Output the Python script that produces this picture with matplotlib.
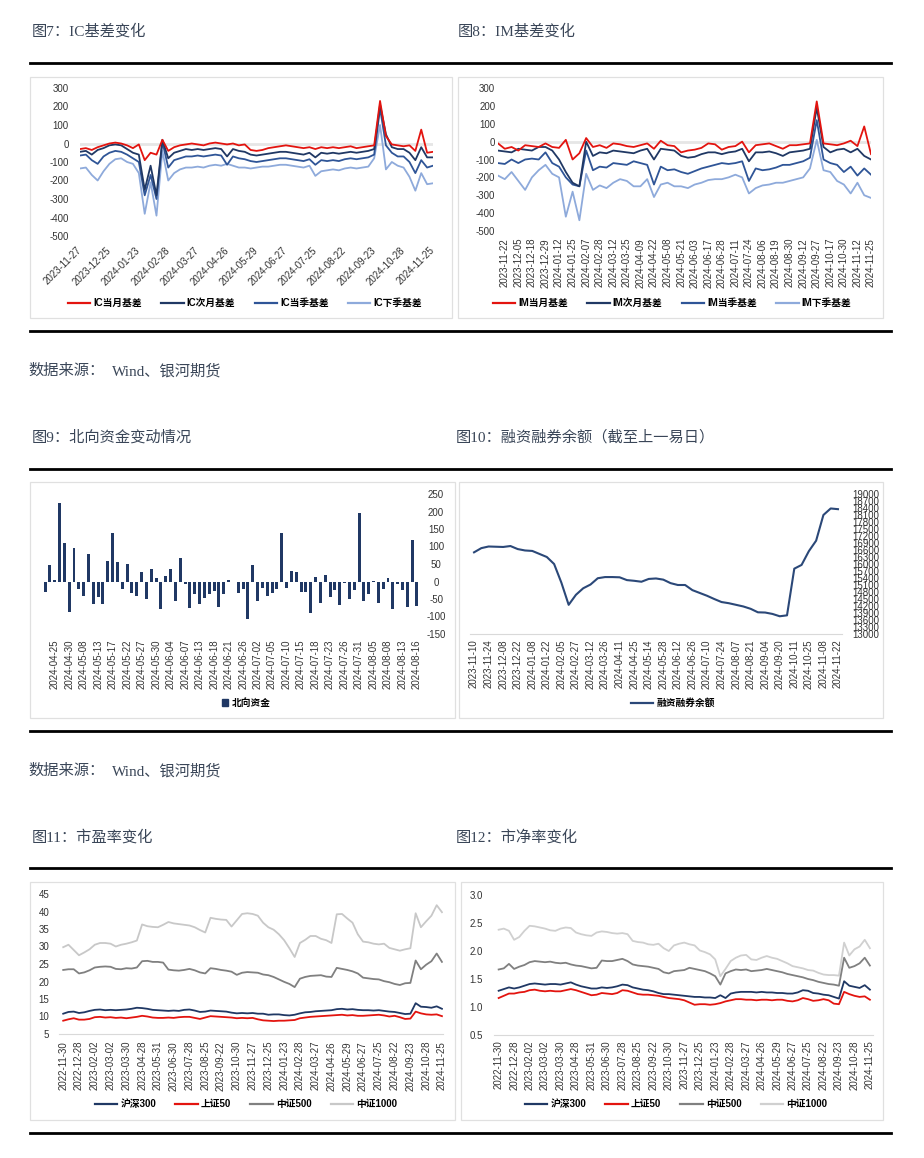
import matplotlib
matplotlib.use("Agg")
import matplotlib.pyplot as plt
from matplotlib.lines import Line2D
from matplotlib.patches import Rectangle, Patch
import numpy as np

plt.rcParams['font.family'] = ['Liberation Sans', 'Noto Sans CJK SC', 'DejaVu Sans']
plt.rcParams['axes.unicode_minus'] = False

W, H = 924, 1158

# ---------------- data ----------------
ic_labels = ['2023-11-27','2023-12-25','2024-01-23','2024-02-28','2024-03-27','2024-04-26',
             '2024-05-29','2024-06-27','2024-07-25','2024-08-22','2024-09-23','2024-10-28','2024-11-25']
ic_cur = [-30,-25,-35,-20,-10,0,5,0,-10,-25, -5,-90,-50,-60,20,-40,-20,-10,-5,0,
          -5,-10,0,5,0,-5,0,-10,-5,-35, -40,-35,-25,-20,-15,-10,-15,-20,-25,-20,
          -30,-20,-25,-20,-25,-20,-15,-25,-20,-15, -10,230,40,-5,-10,-15,-10,-40,75,-50,-45]
ic_next = [-45,-40,-60,-35,-25,-10,-5,-10,-30,-50, -60,-250,-120,-280,20,-80,-50,-40,-30,-35,
           -30,-35,-30,-25,-30,-70,-30,-40,-45,-60, -65,-60,-55,-50,-45,-45,-50,-55,-60,-50,
           -75,-50,-55,-50,-55,-50,-45,-50,-45,-40, -30,210,50,-20,-30,-30,-50,-90,-20,-75,-75]
ic_q = [-65,-60,-90,-110,-70,-50,-40,-45,-60,-80, -100,-280,-170,-300,10,-130,-90,-80,-70,-70,
        -65,-70,-65,-60,-65,-115,-70,-80,-85,-95, -100,-95,-90,-85,-80,-80,-85,-90,-95,-85,
        -115,-90,-95,-90,-95,-85,-80,-85,-80,-75, -60,190,-10,-50,-70,-70,-100,-160,-90,-130,-120]
ic_nq = [-135,-130,-170,-200,-150,-110,-85,-80,-100,-110, -160,-380,-210,-390,-40,-200,-160,-140,-130,-130,
         -125,-130,-120,-115,-120,-110,-120,-130,-130,-135, -130,-125,-125,-120,-115,-115,-120,-125,-130,-120,
         -175,-150,-145,-140,-145,-135,-130,-135,-130,-125, -80,100,-140,-100,-120,-130,-180,-255,-160,-220,-215]

im_labels = ['2023-11-22','2023-12-05','2023-12-18','2023-12-29','2024-01-12','2024-01-25','2024-02-07',
             '2024-02-28','2024-03-12','2024-03-25','2024-04-09','2024-04-22','2024-05-08','2024-05-21',
             '2024-06-03','2024-06-17','2024-06-28','2024-07-11','2024-07-24','2024-08-06','2024-08-19',
             '2024-08-30','2024-09-12','2024-09-27','2024-10-17','2024-10-30','2024-11-12','2024-11-25']
im_cur = [-10,-40,-30,-50,-20,-25,-30,-10,-30,-35, 10,-100,-65,20,-30,-20,-35,-10,-15,-25,
          -30,-20,-10,-40,5,-20,-25,-60,-50,-45, -35,-10,-15,-45,-30,-25,0,-60,-20,-15,
          -10,-25,-40,-20,-20,-15,-10,225,-10,-15, -20,-10,5,-25,85,-70]
im_next = [-50,-55,-60,-40,-45,-50,-30,-30,-50,-100, -170,-230,-250,0,-80,-60,-65,-50,-55,-60,
           -65,-50,-40,-100,-40,-45,-50,-80,-90,-85, -70,-60,-60,-70,-60,-55,-40,-110,-60,-60,
           -55,-65,-80,-60,-55,-50,-40,190,-30,-60, -45,-40,-60,-40,-80,-100]
im_q = [-120,-125,-100,-120,-100,-95,-100,-60,-120,-140, -200,-240,-250,-50,-160,-140,-145,-120,-125,-130,
        -110,-120,-130,-240,-140,-160,-155,-170,-180,-165, -150,-140,-130,-120,-125,-120,-110,-220,-150,-160,
        -155,-145,-130,-130,-120,-110,-90,120,-100,-120, -130,-170,-140,-190,-150,-185]
im_nq = [-190,-210,-170,-220,-270,-200,-160,-130,-180,-200, -420,-280,-440,-180,-270,-245,-260,-230,-210,-220,
         -250,-250,-210,-310,-240,-230,-250,-250,-260,-240, -230,-215,-210,-210,-200,-185,-200,-290,-260,-245,
         -240,-230,-230,-220,-210,-200,-150,10,-160,-170, -220,-240,-290,-230,-300,-315]

nb_labels = ['2024-04-25','2024-04-30','2024-05-08','2024-05-13','2024-05-17','2024-05-22','2024-05-27',
             '2024-05-30','2024-06-04','2024-06-07','2024-06-13','2024-06-18','2024-06-21','2024-06-26',
             '2024-07-02','2024-07-05','2024-07-10','2024-07-15','2024-07-18','2024-07-23','2024-07-26',
             '2024-07-31','2024-08-05','2024-08-08','2024-08-13','2024-08-16']
northbound = [-30,48,3,225,110,-88,95,-22,-40,80, -65,-45,-65,60,140,55,-20,50,-33,-42,
              28,-50,35,10,-78,15,35,-57,68,-8, -75,-37,-63,-48,-37,-28,-73,-35,3,-2,
              -33,-22,-108,48,-55,-18,-42,-32,-22,140, -18,30,28,-30,-30,-90,12,-60,20,-45,
              -25,-68,-3,-50,-25,195,-55,-35,2,-62, -22,10,-78,-8,-25,-72,120,-70]

mg_labels = ['2023-11-10','2023-11-24','2023-12-08','2023-12-22','2024-01-08','2024-01-22','2024-02-05',
             '2024-02-27','2024-03-12','2024-03-26','2024-04-11','2024-04-25','2024-05-14','2024-05-28',
             '2024-06-12','2024-06-26','2024-07-10','2024-07-24','2024-08-07','2024-08-21','2024-09-04',
             '2024-09-20','2024-10-11','2024-10-25','2024-11-08','2024-11-22']
margin = [16500,16680,16750,16740,16730,16770,16640,16580,16560,16430,
          16300,16000,15200,14250,14680,14960,15120,15390,15440,15440,
          15430,15310,15280,15240,15360,15380,15330,15180,15100,15100,
          14880,14760,14640,14500,14370,14320,14250,14180,14080,13930,
          13920,13860,13760,13800,15800,15960,16550,17000,18100,18380,18350]

val_labels = ['2022-11-30','2022-12-28','2023-02-02','2023-03-02','2023-03-30','2023-04-28','2023-05-31',
              '2023-06-30','2023-07-28','2023-08-25','2023-09-22','2023-10-30','2023-11-27','2023-12-25',
              '2024-01-23','2024-02-28','2024-03-27','2024-04-26','2024-05-29','2024-06-27','2024-07-25',
              '2024-08-22','2024-09-23','2024-10-28','2024-11-25']
pe_hs300 = [10.8,11.3,11.4,11.0,11.2,11.6,11.9,12.0,11.8,11.9, 11.8,11.9,12.0,12.2,12.5,12.4,12.2,11.9,11.8,11.7,
            11.6,11.7,11.6,11.9,12.0,11.7,11.3,11.4,11.7,11.6, 11.5,11.4,11.1,10.9,11.0,10.9,11.0,10.8,10.8,10.5,
            10.6,10.6,10.4,10.3,10.5,10.9,11.2,11.3,11.5,11.6, 11.7,11.8,12.1,12.2,12.0,12.1,11.9,11.8,11.8,11.7,
            11.8,11.6,11.4,11.3,11.0,10.7,10.8,13.8,12.8,12.7, 12.5,12.9,12.2]
pe_sz50 = [8.8,9.2,9.5,9.1,9.1,9.3,9.8,9.9,9.7,9.8, 9.6,9.7,9.5,9.7,9.9,10.2,10.0,9.7,9.6,9.6,
           9.7,9.6,9.8,9.9,9.9,9.6,9.3,9.7,10.1,10.0, 9.9,9.8,9.7,9.5,9.6,9.5,9.6,9.2,8.9,8.8,
           8.7,8.8,8.8,8.9,9.0,9.5,9.7,9.9,10.0,10.1, 10.2,10.3,10.4,10.5,10.3,10.4,10.2,10.2,10.3,10.4,
           10.5,10.3,10.0,10.2,9.8,9.3,9.4,11.4,10.9,10.6, 10.5,10.6,10.1]
pe_csi500 = [23.3,23.5,23.5,22.3,22.6,23.2,24.0,24.2,24.3,24.2, 23.6,23.5,23.8,23.7,24.0,25.8,25.9,25.6,25.6,25.4,
             23.4,23.2,23.1,23.3,23.6,23.2,22.6,22.3,23.8,23.6, 23.3,23.1,22.8,21.9,22.5,22.7,22.6,22.5,22.0,21.8,
             21.3,20.6,19.9,19.3,18.4,20.8,21.3,21.6,21.7,21.8, 21.4,21.3,23.9,23.6,23.3,22.9,22.3,21.1,20.9,20.7,
             20.6,20.1,19.8,19.3,19.0,19.5,19.6,26.0,23.5,24.8, 25.8,28.0,25.6]
pe_csi1000 = [29.8,30.5,29.0,27.5,28.3,29.2,30.5,31.0,31.0,30.8, 30.0,30.5,30.8,31.2,31.7,36.3,35.8,35.6,35.5,36.2,
              37.0,36.6,36.4,36.2,36.0,35.5,34.7,34.0,38.2,37.9, 37.7,37.6,35.7,37.5,39.3,39.5,39.3,38.8,36.8,35.5,
              34.8,33.5,31.8,29.5,27.0,31.0,31.9,33.0,33.0,32.2, 31.8,31.0,39.2,39.3,38.0,36.8,33.5,31.4,31.2,30.8,
              30.6,30.8,29.6,29.2,28.8,29.2,29.5,39.5,35.5,37.2, 38.8,41.8,39.8]

pb_hs300 = [1.29,1.32,1.35,1.33,1.35,1.38,1.41,1.42,1.41,1.40, 1.41,1.41,1.40,1.42,1.44,1.40,1.37,1.35,1.33,1.33,
            1.35,1.34,1.35,1.37,1.40,1.39,1.35,1.33,1.31,1.30, 1.28,1.25,1.23,1.23,1.22,1.21,1.20,1.19,1.18,1.18,
            1.17,1.17,1.16,1.21,1.16,1.24,1.26,1.27,1.27,1.27, 1.26,1.27,1.26,1.26,1.25,1.25,1.24,1.24,1.26,1.30,
            1.29,1.25,1.24,1.22,1.21,1.18,1.15,1.46,1.38,1.36, 1.34,1.39,1.31]
pb_sz50 = [1.16,1.20,1.24,1.24,1.26,1.27,1.30,1.31,1.29,1.28, 1.29,1.28,1.28,1.30,1.32,1.30,1.27,1.24,1.21,1.22,
           1.25,1.24,1.23,1.25,1.30,1.29,1.26,1.23,1.22,1.22, 1.21,1.20,1.18,1.16,1.15,1.14,1.12,1.08,1.04,1.05,
           1.05,1.04,1.05,1.07,1.10,1.12,1.14,1.14,1.13,1.13, 1.12,1.13,1.13,1.12,1.13,1.13,1.11,1.10,1.12,1.16,
           1.14,1.11,1.12,1.14,1.12,1.06,1.05,1.27,1.23,1.20, 1.18,1.19,1.13]
pb_csi500 = [1.67,1.69,1.77,1.68,1.72,1.75,1.80,1.82,1.81,1.80, 1.81,1.79,1.78,1.79,1.76,1.74,1.73,1.71,1.69,1.70,
             1.83,1.82,1.82,1.84,1.86,1.82,1.76,1.74,1.73,1.72, 1.70,1.68,1.62,1.60,1.64,1.65,1.66,1.70,1.68,1.66,
             1.64,1.60,1.55,1.40,1.60,1.64,1.67,1.66,1.67,1.64, 1.65,1.66,1.68,1.66,1.64,1.62,1.59,1.57,1.55,1.53,
             1.50,1.48,1.45,1.43,1.41,1.40,1.38,1.88,1.70,1.73, 1.78,1.88,1.74]
pb_csi1000 = [2.38,2.40,2.36,2.20,2.25,2.36,2.45,2.44,2.42,2.40, 2.37,2.36,2.40,2.42,2.41,2.33,2.30,2.28,2.27,2.33,
              2.35,2.34,2.32,2.31,2.32,2.30,2.18,2.16,2.15,2.12, 2.11,2.13,2.05,2.00,2.10,2.13,2.15,2.12,2.10,2.01,
              1.98,1.94,1.85,1.55,1.68,1.82,1.88,1.92,1.93,1.85, 1.84,1.88,1.91,1.88,1.86,1.82,1.78,1.73,1.71,1.69,
              1.66,1.65,1.61,1.58,1.57,1.57,1.56,2.15,1.92,2.03, 2.08,2.20,2.05]

# ---------------- styles ----------------
RED = '#e3140f'
NAVY = '#203864'
MID = '#2f5597'
LIGHT = '#8eaadb'
GRAY = '#808080'
LGRAY = '#c8c8c8'
TICKC = '#333333'
TITLEC = '#3a4658'
BOXC = '#e0e0e0'
TFS = 7.0
LEG_PROP = dict(family=['Liberation Sans', 'Noto Sans CJK SC'], weight='bold', size=7)
TITLE_FAM = ['Liberation Serif', 'Noto Sans CJK SC']

fig = plt.figure(figsize=(W / 100, H / 100), dpi=100)


def fx(x):
    return x / W


def fy(y):
    return 1 - y / H


def add_ax(l, t, r, b):
    ax = fig.add_axes([fx(l), fy(b), (r - l) / W, (b - t) / H])
    ax.set_facecolor('none')
    for s in ax.spines.values():
        s.set_visible(False)
    ax.tick_params(length=0, labelsize=TFS, labelcolor=TICKC)
    return ax


def box(l, t, r, b):
    fig.add_artist(Rectangle((fx(l), fy(b)), (r - l) / W, (b - t) / H, transform=fig.transFigure,
                             fill=False, edgecolor=BOXC, lw=0.9))


def rule(y):
    fig.add_artist(Line2D([fx(30), fx(891)], [fy(y), fy(y)], transform=fig.transFigure,
                          color='black', lw=2.0))


def title(x, y, s):
    fig.text(fx(x), fy(y), s, family=TITLE_FAM, fontsize=11, color=TITLEC, va='center', ha='left')


def legend(handles, labels, cx, cy, colsp=2.0, hl=2.3):
    fig.legend(handles, labels, loc='center', bbox_to_anchor=(fx(cx), fy(cy)), ncol=len(labels),
               frameon=False, prop=LEG_PROP, handlelength=hl, handletextpad=0.3,
               columnspacing=colsp, borderaxespad=0, borderpad=0)


def xticks(ax, positions, labels, rot, pad):
    ax.set_xticks(positions)
    if rot == 45:
        ax.set_xticklabels(labels, rotation=45, ha='right', va='center', rotation_mode='anchor')
    else:
        ax.set_xticklabels(labels, rotation=90, ha='center', va='top')
    ax.tick_params(axis='x', pad=pad)


# ---------------- rules, titles, boxes ----------------
rule(63); rule(331); rule(469); rule(731); rule(868); rule(1133)
title(32, 31, '图7：IC基差变化')
title(458, 31, '图8：IM基差变化')
title(32, 437, '图9：北向资金变动情况')
title(456, 437, '图10：融资融券余额（截至上一易日）')
title(32, 837, '图11：市盈率变化')
title(456, 837, '图12：市净率变化')
for yy in (371, 771):
    fig.text(fx(28), fy(yy), '数据来源：', family=TITLE_FAM, fontsize=11, color=TITLEC, va='center')
    fig.text(fx(112), fy(yy), 'Wind、银河期货', family=TITLE_FAM, fontsize=11, color=TITLEC, va='center')

box(30, 77, 452, 318)
box(458, 77, 883, 318)
box(30, 482, 455, 718)
box(459, 482, 883, 718)
box(30, 882, 455, 1120)
box(461, 882, 883, 1120)

# ---------------- Fig 7: IC basis ----------------
ax = add_ax(80, 88, 433, 236)
x = np.arange(len(ic_cur))
ax.axhline(0, color='#e6e6e6', lw=2.0, zorder=0)
ax.plot(x, ic_nq, color=LIGHT, lw=1.3)
ax.plot(x, ic_q, color=MID, lw=1.3)
ax.plot(x, ic_next, color=NAVY, lw=1.3)
ax.plot(x, ic_cur, color=RED, lw=1.3)
ax.set_xlim(0, len(ic_cur) - 1)
ax.set_ylim(-500, 300)
ax.set_yticks(range(-500, 301, 100))
ax.tick_params(axis='y', pad=8)
xticks(ax, np.arange(0, len(ic_cur), 5), ic_labels, 45, 9)
legend([Line2D([], [], color=c, lw=1.6) for c in (RED, NAVY, MID, LIGHT)],
       ['IC当月基差', 'IC次月基差', 'IC当季基差', 'IC下季基差'], 245, 303)

# ---------------- Fig 8: IM basis ----------------
ax = add_ax(498, 88, 871, 231)
x = np.arange(len(im_cur))
ax.axhline(0, color='#e6e6e6', lw=2.0, zorder=0)
ax.plot(x, im_nq, color=LIGHT, lw=1.3)
ax.plot(x, im_q, color=MID, lw=1.3)
ax.plot(x, im_next, color=NAVY, lw=1.3)
ax.plot(x, im_cur, color=RED, lw=1.3)
ax.set_xlim(0, len(im_cur) - 1)
ax.set_ylim(-500, 300)
ax.set_yticks(range(-500, 301, 100))
ax.tick_params(axis='y', pad=2)
xticks(ax, np.arange(1, len(im_cur), 2), im_labels, 90, 5)
legend([Line2D([], [], color=c, lw=1.6) for c in (RED, NAVY, MID, LIGHT)],
       ['IM当月基差', 'IM次月基差', 'IM当季基差', 'IM下季基差'], 672, 303)

# ---------------- Fig 9: northbound ----------------
ax = add_ax(42.6, 494, 419.4, 634)
x = np.arange(len(northbound))
ax.bar(x, northbound, width=0.62, color=NAVY)
ax.set_xlim(-0.5, len(northbound) - 0.5)
ax.set_ylim(-150, 250)
ax.set_yticks(range(-150, 251, 50))
ax.yaxis.tick_right()
for lab in ax.get_yticklabels():
    lab.set_ha('center')
ax.tick_params(axis='y', pad=12)
xticks(ax, np.arange(2, len(northbound), 3), nb_labels, 90, 4)
legend([Patch(color=NAVY)], ['北向资金'], 246, 703, hl=0.7)

# ---------------- Fig 10: margin balance ----------------
ax = add_ax(470.4, 494, 841.6, 634)
x = np.arange(len(margin))
ax.plot(x, margin, color='#2b4878', lw=1.5)
ax.set_xlim(-0.5, len(margin) - 0.5)
ax.set_ylim(13000, 19000)
ax.set_yticks(range(13000, 19001, 300))
ax.yaxis.tick_right()
ax.tick_params(axis='y', pad=8)
ax.spines['bottom'].set_visible(True)
ax.spines['bottom'].set_color('#d9d9d9')
xticks(ax, np.arange(0, len(margin), 2), mg_labels, 90, 4)
legend([Line2D([], [], color='#2b4878', lw=1.6)], ['融资融券余额'], 673, 703)

# ---------------- Fig 11: PE ----------------
ax = add_ax(59, 894, 443, 1034)
x = np.arange(len(pe_hs300))
ax.plot(x, pe_csi1000, color=LGRAY, lw=1.3)
ax.plot(x, pe_csi500, color=GRAY, lw=1.3)
ax.plot(x, pe_sz50, color=RED, lw=1.3)
ax.plot(x, pe_hs300, color=NAVY, lw=1.3)
ax.set_xlim(-0.8, len(pe_hs300) - 0.8)
ax.set_ylim(5, 45)
ax.set_yticks(range(5, 46, 5))
ax.tick_params(axis='y', pad=7)
ax.spines['bottom'].set_visible(True)
ax.spines['bottom'].set_color('#d9d9d9')
xticks(ax, np.arange(0, len(pe_hs300), 3), val_labels, 90, 5)
legend([Line2D([], [], color=c, lw=1.6) for c in (NAVY, RED, GRAY, LGRAY)],
       ['沪深300', '上证50', '中证500', '中证1000'], 246, 1104)

# ---------------- Fig 12: PB ----------------
ax = add_ax(494, 895, 873, 1035)
x = np.arange(len(pb_hs300))
ax.plot(x, pb_csi1000, color='#d0d0d0', lw=1.3)
ax.plot(x, pb_csi500, color=GRAY, lw=1.3)
ax.plot(x, pb_sz50, color=RED, lw=1.3)
ax.plot(x, pb_hs300, color=NAVY, lw=1.3)
ax.set_xlim(-0.9, len(pb_hs300) - 0.4)
ax.set_ylim(0.5, 3.0)
ax.set_yticks(np.arange(0.5, 3.01, 0.5))
ax.set_yticklabels([f'{v:.1f}' for v in np.arange(0.5, 3.01, 0.5)])
ax.tick_params(axis='y', pad=8)
ax.spines['bottom'].set_visible(True)
ax.spines['bottom'].set_color('#d9d9d9')
xticks(ax, np.arange(0, len(pb_hs300), 3), val_labels, 90, 4)
legend([Line2D([], [], color=c, lw=1.6) for c in (NAVY, RED, GRAY, '#d0d0d0')],
       ['沪深300', '上证50', '中证500', '中证1000'], 676, 1104)

fig.savefig('out.png', dpi=100)
